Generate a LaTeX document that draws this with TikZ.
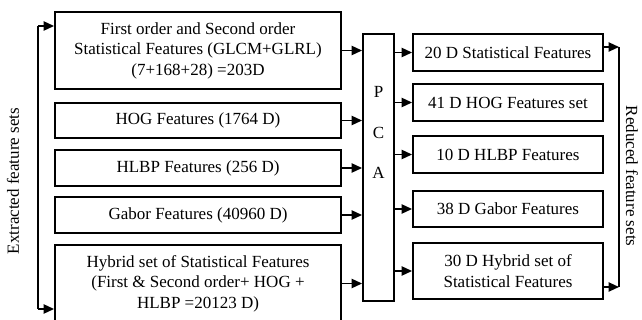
\documentclass[tikz,border=0pt]{standalone}
\usepackage{fontspec}
\setmainfont{Liberation Serif}
\usetikzlibrary{arrows.meta}
\begin{document}
\begin{tikzpicture}[x=0.5pt,y=-0.5pt,
  txt/.style={font=\fontsize{8.5}{10.25}\selectfont},
  box/.style={txt, draw, line width=0.95pt, align=center, inner sep=0pt},
  lbox/.style={box, minimum width=143pt},
  rbox/.style={box, minimum width=95pt},
  wire/.style={line width=0.85pt},
  arr/.style={wire, -{Triangle[length=5.2pt,width=4.6pt]}}]
\useasboundingbox (0,0) rectangle (642,320);

% extracted feature sets
\node[lbox, minimum height=38.5pt] (L1) at (198,50.5)
  {First order and Second order\\Statistical Features (GLCM+GLRL)\\(7+168+28) =203D};
\node[lbox, minimum height=17.5pt] (L2) at (198,120.5) {HOG Features (1764 D)};
\node[lbox, minimum height=18pt] (L3) at (198,168) {HLBP Features (256 D)};
\node[lbox, minimum height=18pt] (L4) at (198,215) {Gabor Features (40960 D)};
\node[lbox, minimum height=38.5pt] (L5) at (198,283.5)
  {Hybrid set of Statistical Features\\(First \& Second order+ HOG +\\HLBP =20123 D)};

% PCA block
\node[box, minimum width=15.5pt, minimum height=133.5pt] (P) at (378.5,167.5) {};
\node[txt] (pP) at (378.5,92) {P};
\node[txt] (pC) at (378.5,133) {C};
\node[txt] (pA) at (378.5,173) {A};

% reduced feature sets
\node[rbox, minimum height=18.5pt] (R1) at (508,52.5) {20 D Statistical Features};
\node[rbox, minimum height=18.5pt] (R2) at (508,102.5) {41 D HOG Features set};
\node[rbox, minimum height=18.5pt] (R3) at (508,154.5) {10 D HLBP Features};
\node[rbox, minimum height=18pt] (R4) at (508,209) {38 D Gabor Features};
\node[rbox, minimum height=28pt] (R5) at (508,271)
  {30 D Hybrid set of\\Statistical Features};

% into and out of PCA
\foreach \n in {L1,L2,L3,L4,L5}
  \draw[arr] (\n.east) -- (\n.east -| P.west);
\foreach \n in {R1,R2,R3,R4,R5}
  \draw[arr] (P.east |- \n.west) -- (\n.west);

% left bracket
\coordinate (lt) at (38,26);
\coordinate (lb) at (38,309);
\draw[wire] (lt) -- (lb);
\draw[arr] (lt) -- (lt -| L1.west);
\draw[arr] (lb) -- (lb -| L5.west);
\node[txt, rotate=90] (lx) at (13,181) {Extracted feature sets};

% right bracket
\coordinate (rt) at (619,47);
\coordinate (rb) at (619,287);
\draw[wire] (rt) -- (rb);
\draw[arr] (rt -| R1.east) -- (rt);
\draw[arr] (rb -| R5.east) -- (rb);
\node[txt, rotate=-90] (rx) at (632,176) {Reduced feature sets};
\end{tikzpicture}
\end{document}
